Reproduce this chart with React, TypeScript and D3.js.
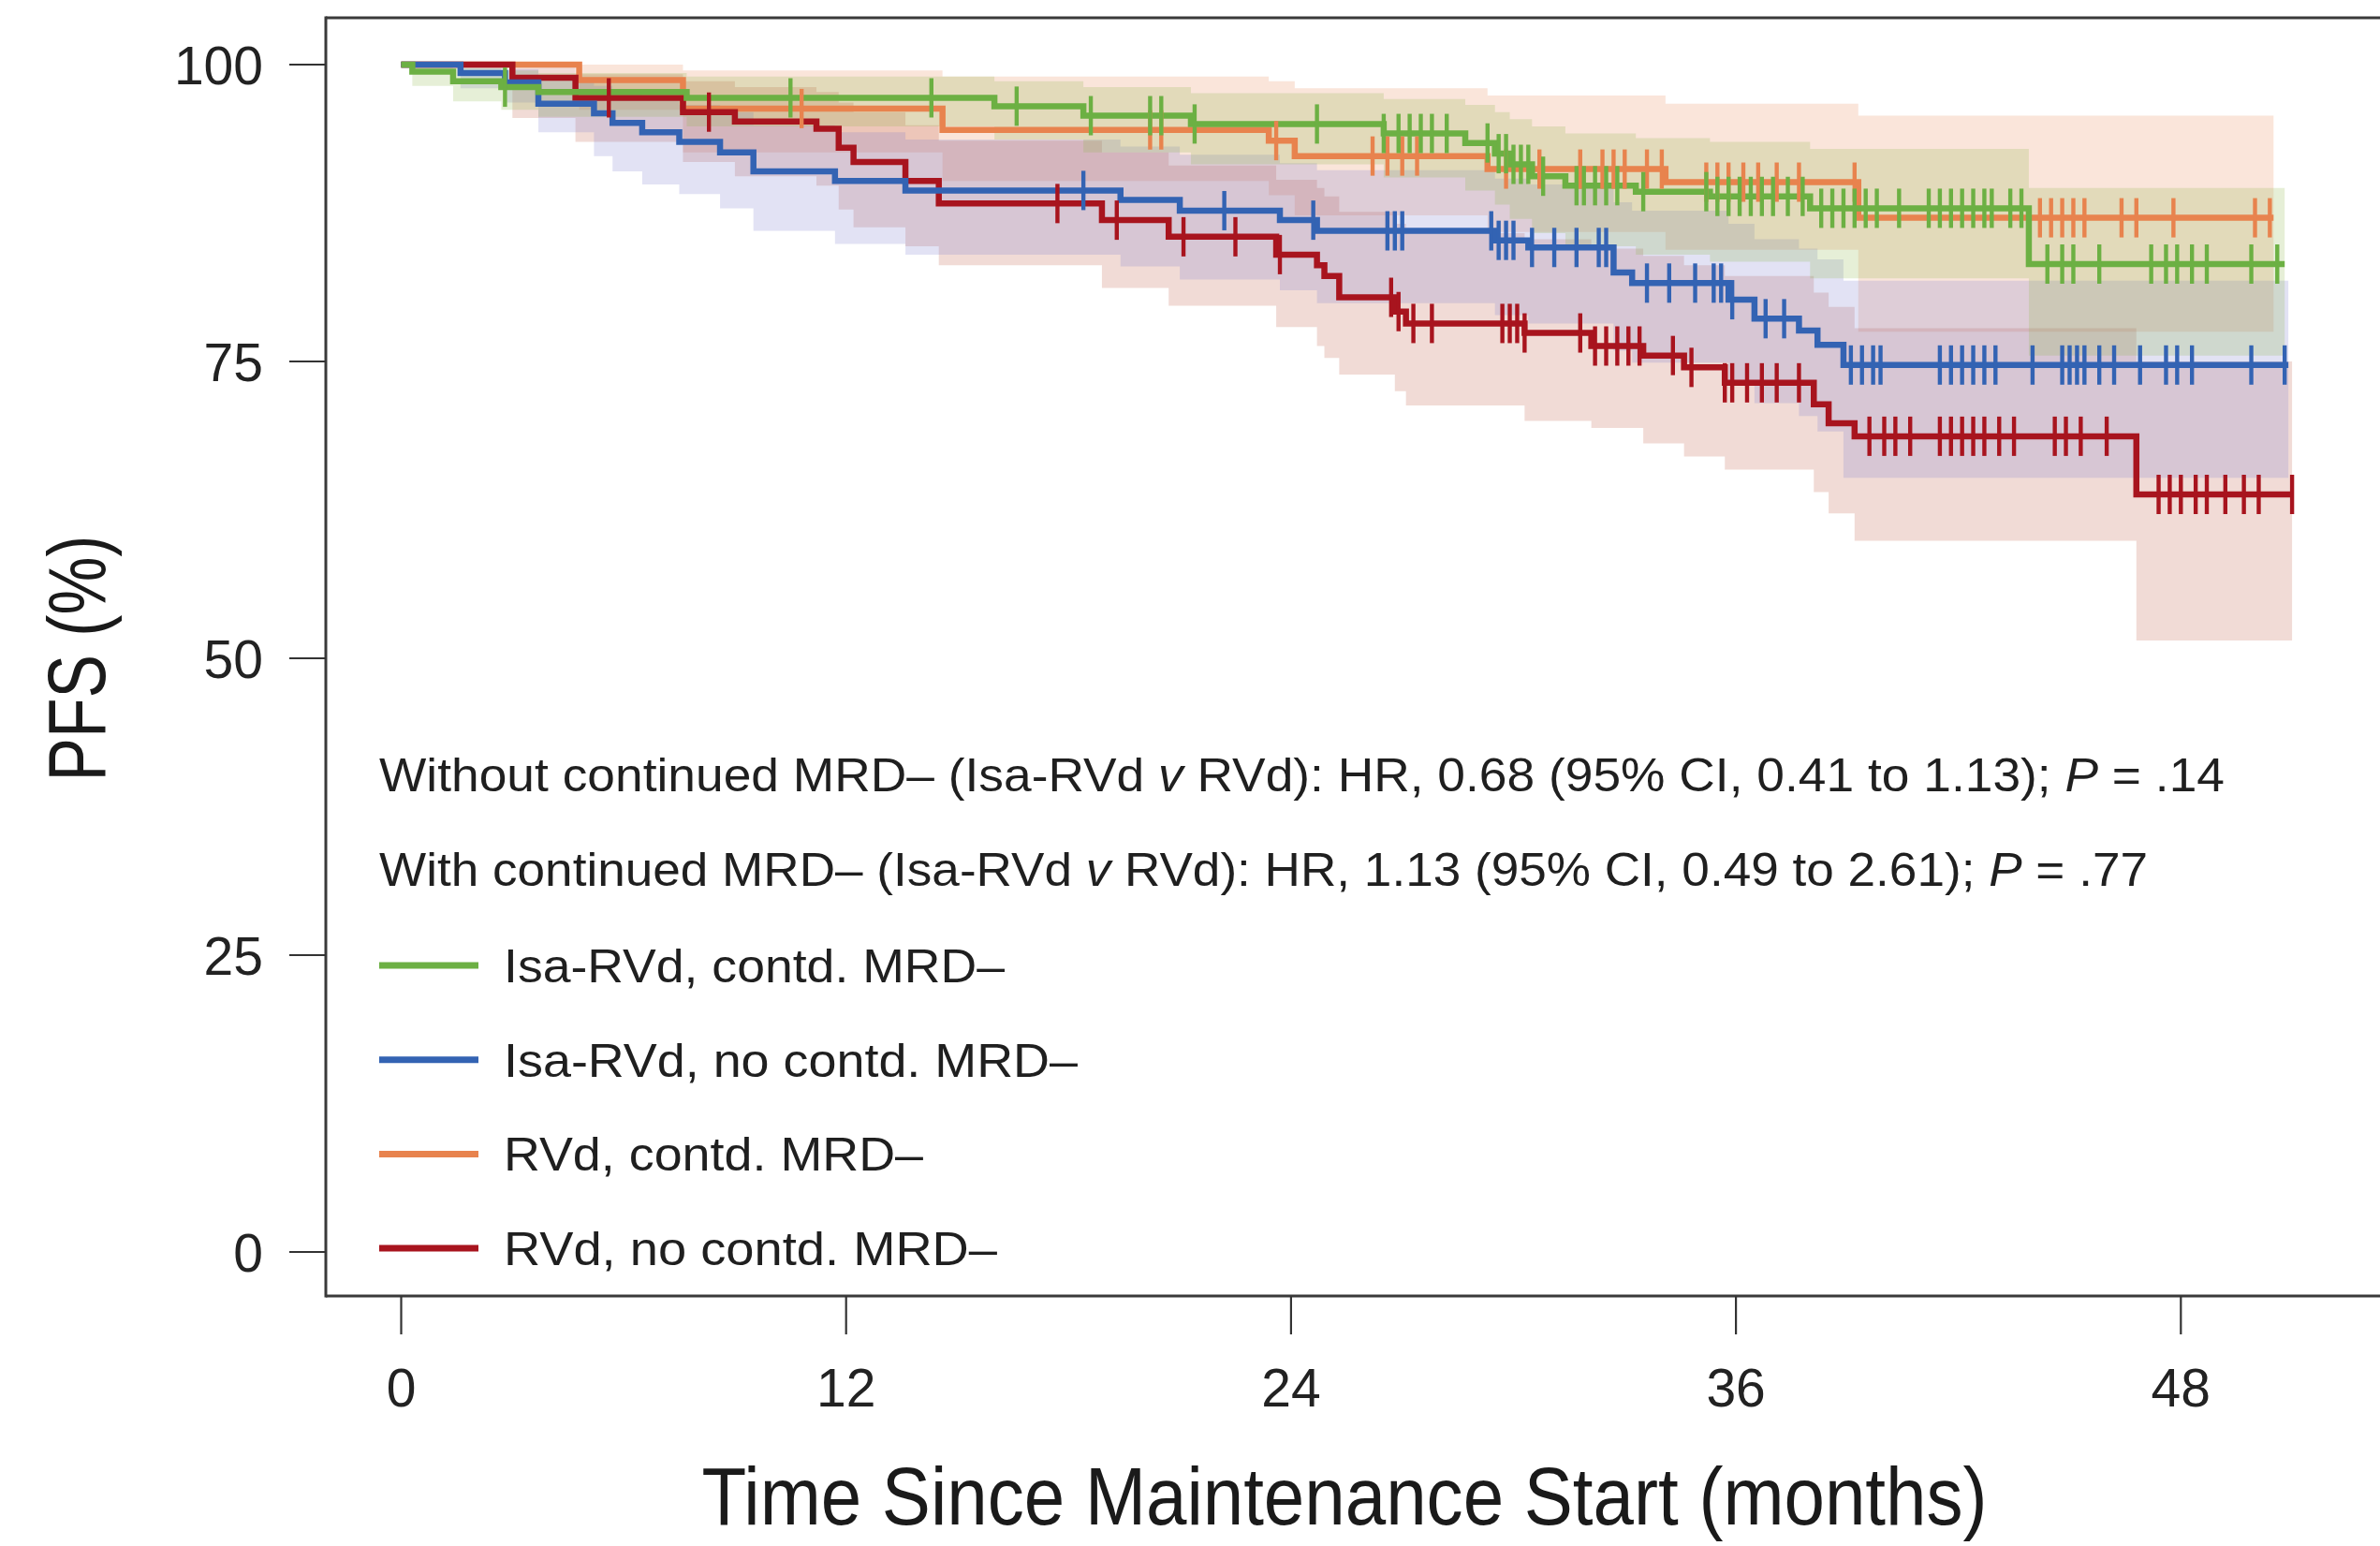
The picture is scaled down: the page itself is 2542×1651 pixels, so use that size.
import React from "react";
import * as d3 from "d3";

const W = 2542;
const H = 1651;

const xTicks = [0, 12, 24, 36, 48];
const yTicks = [0, 25, 50, 75, 100];

// Isa-RVd, contd. MRD–
const greenTimes = [0, 0.3, 1.4, 2.7, 3.7, 7.7, 16.0, 18.4, 21.3, 26.5, 28.7, 29.5, 29.9, 30.5, 31.4, 33.3, 35.3, 38.0, 43.9];
const greenSurv = [100, 99.4, 98.6, 98.1, 97.7, 97.2, 96.5, 95.7, 95.0, 94.2, 93.4, 92.5, 91.6, 90.6, 89.8, 89.3, 88.9, 87.9, 83.2];
const greenLower = [100, 98.2, 96.9, 96.2, 95.6, 94.8, 93.7, 92.6, 91.6, 90.5, 89.4, 88.2, 87.0, 85.8, 84.7, 84.0, 83.4, 82.0, 75.5];
const greenUpper = [100, 100, 99.7, 99.5, 99.3, 99.0, 98.6, 98.1, 97.6, 97.1, 96.6, 96.0, 95.4, 94.8, 94.2, 93.8, 93.5, 92.9, 89.6];
const greenEnd = 50.8;
const greenCensor = [2.8, 10.5, 14.3, 16.6, 18.6, 20.2, 20.5, 21.4, 24.7, 26.5, 26.9, 27.2, 27.5, 27.8, 28.2, 29.3, 29.6, 29.8, 30.0, 30.2, 30.4, 30.8, 31.7, 31.9, 32.2, 32.5, 32.8, 33.5, 35.2, 35.5, 35.8, 36.1, 36.4, 36.7, 37.0, 37.4, 37.8, 38.3, 38.6, 38.9, 39.2, 39.5, 39.8, 40.4, 41.2, 41.5, 41.8, 42.1, 42.4, 42.7, 42.9, 43.4, 43.7, 44.4, 44.8, 45.1, 45.8, 47.2, 47.6, 47.9, 48.3, 48.7, 49.9, 50.6];

// Isa-RVd, no contd. MRD–
const blueTimes = [0, 1.6, 2.8, 3.7, 5.2, 5.7, 6.5, 7.5, 8.6, 9.5, 11.7, 13.6, 19.4, 21.0, 23.7, 24.7, 29.5, 30.4, 32.7, 33.2, 35.8, 36.5, 37.7, 38.2, 38.9];
const blueSurv = [100, 99.3, 98.5, 96.7, 95.9, 95.1, 94.3, 93.5, 92.6, 91.0, 90.2, 89.4, 88.6, 87.7, 86.9, 86.0, 85.2, 84.6, 82.5, 81.6, 80.2, 78.6, 77.6, 76.4, 74.7];
const blueLower = [100, 98.0, 96.8, 94.3, 92.3, 91.0, 89.9, 89.1, 87.9, 86.0, 84.9, 84.0, 83.0, 81.9, 81.0, 79.9, 78.9, 78.2, 75.9, 74.9, 73.3, 71.5, 70.4, 69.1, 65.2];
const blueUpper = [100, 100, 99.6, 98.7, 98.2, 97.7, 97.2, 96.6, 96.0, 94.9, 94.3, 93.7, 93.1, 92.4, 91.7, 91.1, 90.4, 89.9, 88.4, 87.7, 86.6, 85.3, 84.5, 83.6, 81.8];
const blueEnd = 50.9;
const blueCensor = [18.4, 22.2, 24.6, 26.6, 26.8, 27.0, 29.4, 29.6, 29.8, 30.0, 30.5, 31.1, 31.7, 32.3, 32.5, 33.6, 34.2, 34.9, 35.4, 35.6, 35.9, 36.8, 37.3, 39.1, 39.4, 39.7, 39.9, 41.5, 41.8, 42.1, 42.4, 42.7, 43.0, 44.0, 44.8, 45.0, 45.2, 45.4, 45.8, 46.2, 46.9, 47.6, 47.9, 48.3, 49.9, 50.8];

// RVd, contd. MRD–
const orangeTimes = [0, 4.8, 7.6, 14.6, 23.4, 24.1, 29.3, 34.1, 39.3];
const orangeSurv = [100, 98.7, 96.3, 94.5, 93.6, 92.3, 91.2, 90.1, 87.1];
const orangeLower = [100, 96.2, 92.6, 90.2, 89.0, 87.3, 85.9, 84.4, 77.5];
const orangeUpper = [100, 100, 99.5, 99.0, 98.6, 98.0, 97.4, 96.7, 95.7];
const orangeEnd = 50.5;
const orangeCensor = [10.8, 20.2, 20.5, 23.6, 26.2, 26.6, 27.0, 27.4, 29.8, 30.7, 31.8, 32.4, 32.7, 33.0, 33.6, 34.0, 35.2, 35.5, 35.8, 36.2, 36.6, 37.1, 37.7, 39.2, 44.2, 44.5, 44.8, 45.1, 45.4, 46.4, 46.8, 47.8, 50.0, 50.4];

// RVd, no contd. MRD–
const redTimes = [0, 3.0, 4.7, 7.6, 9.0, 11.2, 11.8, 12.2, 13.6, 14.5, 18.9, 20.7, 23.6, 24.7, 24.9, 25.3, 26.8, 27.1, 30.3, 32.1, 33.5, 34.6, 35.7, 38.1, 38.5, 39.2, 46.8];
const redSurv = [100, 98.9, 97.2, 96.0, 95.2, 94.6, 93.0, 91.8, 90.2, 88.3, 86.9, 85.5, 84.0, 83.1, 82.2, 80.4, 79.2, 78.2, 77.4, 76.3, 75.5, 74.5, 73.2, 71.4, 69.8, 68.7, 63.8];
const redLower = [100, 95.5, 93.5, 91.8, 90.6, 89.8, 87.8, 86.3, 84.7, 83.1, 81.2, 79.7, 77.9, 76.3, 75.3, 73.9, 72.5, 71.3, 70.0, 69.4, 68.1, 67.0, 65.9, 64.0, 62.2, 59.9, 51.5];
const redUpper = [100, 100, 99.2, 98.6, 98.1, 97.7, 96.8, 96.0, 94.9, 93.6, 92.6, 91.5, 90.3, 89.6, 88.9, 87.6, 86.6, 85.8, 85.3, 84.5, 83.9, 83.1, 82.2, 80.8, 79.6, 77.8, 75.0];
const redEnd = 51.0;
const redCensor = [5.6, 8.3, 17.7, 19.3, 21.1, 22.5, 23.7, 26.7, 26.9, 27.3, 27.8, 29.7, 29.9, 30.1, 30.3, 31.8, 32.2, 32.5, 32.8, 33.1, 33.4, 34.3, 34.8, 35.7, 35.9, 36.3, 36.7, 37.1, 37.7, 39.6, 40.0, 40.3, 40.7, 41.5, 41.8, 42.1, 42.4, 42.7, 43.1, 43.5, 44.6, 44.9, 45.3, 46.0, 47.4, 47.7, 48.0, 48.4, 48.7, 49.2, 49.7, 50.1, 51.0];

const legendLabels = ["Isa-RVd, contd. MRD–", "Isa-RVd, no contd. MRD–", "RVd, contd. MRD–", "RVd, no contd. MRD–"];
const legendColors = ["#6cb043", "#3363b3", "#e8834e", "#a8141e"];

type Series = {
  key: string;
  times: number[];
  surv: number[];
  lower: number[];
  upper: number[];
  end: number;
  censor: number[];
  color: string;
  band: string;
  bandOpacity: number;
};

const FONT = "'Liberation Sans', Arial, Helvetica, sans-serif";

export default function App() {
  const x = d3.scaleLinear().domain([0, 48]).range([428.5, 2329.3]);
  const y = d3.scaleLinear().domain([0, 100]).range([1337, 69]);

  const series: Series[] = [
    { key: "orange", times: orangeTimes, surv: orangeSurv, lower: orangeLower, upper: orangeUpper, end: orangeEnd, censor: orangeCensor, color: legendColors[2], band: "#e88a55", bandOpacity: 0.22 },
    { key: "red", times: redTimes, surv: redSurv, lower: redLower, upper: redUpper, end: redEnd, censor: redCensor, color: legendColors[3], band: "#c05a44", bandOpacity: 0.22 },
    { key: "blue", times: blueTimes, surv: blueSurv, lower: blueLower, upper: blueUpper, end: blueEnd, censor: blueCensor, color: legendColors[1], band: "#7a7ccf", bandOpacity: 0.22 },
    { key: "green", times: greenTimes, surv: greenSurv, lower: greenLower, upper: greenUpper, end: greenEnd, censor: greenCensor, color: legendColors[0], band: "#8fb64a", bandOpacity: 0.22 },
  ];

  const line = d3
    .line<[number, number]>()
    .x((d) => x(d[0]))
    .y((d) => y(d[1]))
    .curve(d3.curveStepAfter);

  const area = d3
    .area<[number, number, number]>()
    .x((d) => x(d[0]))
    .y0((d) => y(d[1]))
    .y1((d) => y(d[2]))
    .curve(d3.curveStepAfter);

  const valueAt = (s: Series, t: number) => {
    const i = Math.max(0, d3.bisectRight(s.times, t) - 1);
    return s.surv[i];
  };

  const linePts = (s: Series): [number, number][] => {
    const pts = s.times.map((t, i) => [t, s.surv[i]] as [number, number]);
    pts.push([s.end, s.surv[s.surv.length - 1]]);
    return pts;
  };
  const bandPts = (s: Series): [number, number, number][] => {
    const pts = s.times.map((t, i) => [t, s.lower[i], s.upper[i]] as [number, number, number]);
    const n = s.times.length - 1;
    pts.push([s.end, s.lower[n], s.upper[n]]);
    return pts;
  };

  const frameLeft = 348;
  const frameTop = 19;
  const frameBottom = 1384;

  return (
    <svg
      width={W}
      height={H}
      viewBox={`0 0 ${W} ${H}`}
      style={{ position: "absolute", left: 0, top: 0, background: "#fff" }}
      fontFamily={FONT}
    >
      <rect x={0} y={0} width={W} height={H} fill="#fff" />

      {/* confidence bands */}
      <g>
        {series.map((s) => (
          <path key={`band-${s.key}`} d={area(bandPts(s)) || ""} fill={s.band} fillOpacity={s.bandOpacity} stroke="none" />
        ))}
      </g>

      {/* survival curves */}
      <g fill="none">
        {series.map((s) => (
          <path key={`line-${s.key}`} d={line(linePts(s)) || ""} stroke={s.color} strokeWidth={6.5} strokeLinejoin="miter" />
        ))}
      </g>

      {/* censor marks */}
      <g>
        {series.map((s) =>
          s.censor.map((t, i) => {
            const v = valueAt(s, t);
            return (
              <line
                key={`c-${s.key}-${i}`}
                x1={x(t)}
                x2={x(t)}
                y1={y(v) - 21}
                y2={y(v) + 21}
                stroke={s.color}
                strokeWidth={4.4}
              />
            );
          })
        )}
      </g>

      {/* frame */}
      <g stroke="#3a3a3a" strokeWidth={3} fill="none">
        <line x1={frameLeft} x2={W + 5} y1={frameTop} y2={frameTop} />
        <line x1={frameLeft} x2={frameLeft} y1={frameTop - 1.5} y2={frameBottom + 1.5} />
        <line x1={frameLeft} x2={W + 5} y1={frameBottom} y2={frameBottom} />
      </g>

      {/* y axis */}
      <g>
        {yTicks.map((t) => (
          <g key={`yt-${t}`}>
            <line x1={309} x2={frameLeft} y1={y(t)} y2={y(t)} stroke="#333" strokeWidth={2.2} />
            <text x={281} y={y(t)} dy="0.36em" textAnchor="end" fontSize={57} fill="#222">
              {t}
            </text>
          </g>
        ))}
        <text
          transform={`translate(112, 703) rotate(-90)`}
          textAnchor="middle"
          fontSize={88}
          fill="#1a1a1a"
          textLength={263}
          lengthAdjust="spacingAndGlyphs"
        >
          PFS (%)
        </text>
      </g>

      {/* x axis */}
      <g>
        {xTicks.map((t) => (
          <g key={`xt-${t}`}>
            <line x1={x(t)} x2={x(t)} y1={frameBottom} y2={1425} stroke="#333" strokeWidth={2.2} />
            <text x={x(t)} y={1502} textAnchor="middle" fontSize={57} fill="#222">
              {t}
            </text>
          </g>
        ))}
        <text
          x={1436}
          y={1628}
          textAnchor="middle"
          fontSize={88}
          fill="#1a1a1a"
          textLength={1373}
          lengthAdjust="spacingAndGlyphs"
        >
          Time Since Maintenance Start (months)
        </text>
      </g>

      {/* hazard ratio annotations */}
      <g fontSize={50} fill="#1f1f1f">
        <text x={405} y={845} textLength={1971} lengthAdjust="spacingAndGlyphs">
          Without continued MRD– (Isa-RVd <tspan fontStyle="italic">v</tspan> RVd): HR, 0.68 (95% CI, 0.41 to 1.13);{" "}
          <tspan fontStyle="italic">P</tspan> = .14
        </text>
        <text x={405} y={946} textLength={1889} lengthAdjust="spacingAndGlyphs">
          With continued MRD– (Isa-RVd <tspan fontStyle="italic">v</tspan> RVd): HR, 1.13 (95% CI, 0.49 to 2.61);{" "}
          <tspan fontStyle="italic">P</tspan> = .77
        </text>
      </g>

      {/* legend */}
      <g fontSize={50} fill="#1f1f1f">
        {legendLabels.map((lab, i) => {
          const cy = 1031 + i * 100.7;
          const widths = [535, 613, 448, 527];
          return (
            <g key={`lg-${i}`}>
              <line x1={405} x2={511} y1={cy} y2={cy} stroke={legendColors[i]} strokeWidth={7} />
              <text x={538} y={cy + 18} textLength={widths[i]} lengthAdjust="spacingAndGlyphs">
                {lab}
              </text>
            </g>
          );
        })}
      </g>
    </svg>
  );
}
